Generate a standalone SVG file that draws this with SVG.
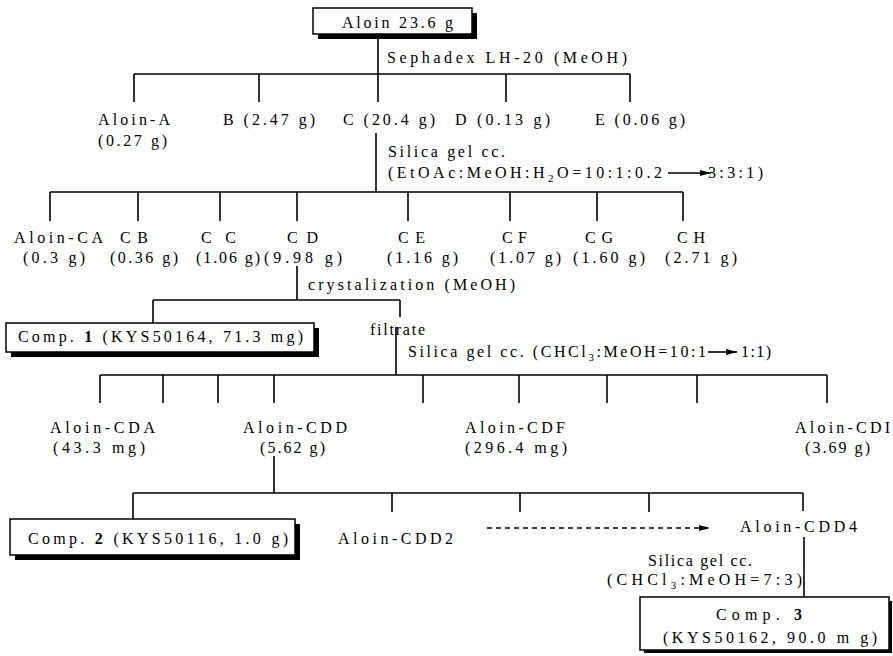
<svg xmlns="http://www.w3.org/2000/svg" width="893" height="656" viewBox="0 0 893 656">
<style>
text{font-family:"Liberation Serif","Times New Roman",serif;font-size:16px;fill:#000}
.b{font-weight:bold}
.ln{stroke:#000;stroke-width:1.6;fill:none}
.dash{stroke:#000;stroke-width:1.4;stroke-dasharray:5 4;fill:none}
.box{fill:#fff;stroke:#000;stroke-width:1.5}
.sh{fill:#000}
</style>
<defs>
<marker id="ah" markerWidth="12" markerHeight="8" refX="11" refY="4" orient="auto" markerUnits="userSpaceOnUse">
<path d="M0,1 L11,4 L0,7 Z" fill="#000"/>
</marker>
</defs>
<g id="connectors">
<path class="ln" d="M378,34 V74 M134,74 H630 M134,74 V102 M259,74 V102 M378,74 V102 M506,74 V102 M630,74 V102"/>
<path class="ln" d="M376,133 V192 M50,192 H683 M50,192 V221 M138,192 V221 M220,192 V221 M297,192 V221 M408,192 V221 M510,192 V221 M597,192 V221 M683,192 V221"/>
<path class="ln" d="M297,266 V300 M153,300 H400 M153,300 V323 M400,300 V317"/>
<path class="ln" d="M396,327 V375 M100,375 H827 M100,375 V403 M163,375 V403 M218,375 V403 M274,375 V403 M423,375 V403 M519,375 V403 M607,375 V403 M697,375 V403 M827,375 V403"/>
<path class="ln" d="M274,456 V493 M133,493 H803 M133,493 V519 M392,493 V512 M520,493 V512 M649,493 V512 M803,493 V511"/>
<path class="dash" d="M487,528 H710" marker-end="url(#ah)"/>
<path class="ln" d="M804,537 V597"/>
<path class="ln" d="M668,173 H711" marker-end="url(#ah)"/>
<path class="ln" d="M708,352 H737" marker-end="url(#ah)"/>
</g>
<g id="n-aloin">
<rect class="sh" x="318" y="13" width="159" height="26"/>
<rect class="box" x="313" y="8" width="159" height="26"/>
<text x="342" y="28" textLength="111" lengthAdjust="spacing">Aloin 23.6 g</text>
</g>
<g id="l-sephadex"><text x="387" y="63" textLength="240" lengthAdjust="spacing">Sephadex LH-20 (MeOH)</text></g>
<g id="n-A"><text x="98" y="125" textLength="72" lengthAdjust="spacing">Aloin-A</text><text x="98" y="146" textLength="69" lengthAdjust="spacing">(0.27 g)</text></g>
<g id="n-B"><text x="223" y="125" textLength="92" lengthAdjust="spacing">B (2.47 g)</text></g>
<g id="n-C"><text x="343" y="125" textLength="92" lengthAdjust="spacing">C (20.4 g)</text></g>
<g id="n-D"><text x="455" y="125" textLength="95" lengthAdjust="spacing">D (0.13 g)</text></g>
<g id="n-E"><text x="595" y="125" textLength="90" lengthAdjust="spacing">E (0.06 g)</text></g>
<g id="l-silica1">
<text x="388" y="157" textLength="117" lengthAdjust="spacing">Silica gel cc.</text>
<text x="388" y="178" textLength="274" lengthAdjust="spacing">(EtOAc:MeOH:H<tspan font-size="11" dy="4">2</tspan><tspan dy="-4">O=10:1:0.2</tspan></text>
<text x="708" y="178" textLength="55" lengthAdjust="spacing">3:3:1)</text>
</g>
<g id="n-CA"><text x="14" y="243" textLength="89" lengthAdjust="spacing">Aloin-CA</text><text x="23" y="263" textLength="62" lengthAdjust="spacing">(0.3 g)</text></g>
<g id="n-CB"><text x="120" y="243" textLength="28" lengthAdjust="spacing">CB</text><text x="110" y="263" textLength="68" lengthAdjust="spacing">(0.36 g)</text></g>
<g id="n-CC"><text x="201" y="243" textLength="35" lengthAdjust="spacing">CC</text><text x="196" y="263" textLength="64" lengthAdjust="spacing">(1.06 g)</text></g>
<g id="n-CD"><text x="287" y="243" textLength="31" lengthAdjust="spacing">CD</text><text x="264" y="263" textLength="78" lengthAdjust="spacing">(9.98 g)</text></g>
<g id="n-CE"><text x="398" y="243" textLength="27" lengthAdjust="spacing">CE</text><text x="387" y="263" textLength="71" lengthAdjust="spacing">(1.16 g)</text></g>
<g id="n-CF"><text x="502" y="243" textLength="25" lengthAdjust="spacing">CF</text><text x="490" y="263" textLength="71" lengthAdjust="spacing">(1.07 g)</text></g>
<g id="n-CG"><text x="585" y="243" textLength="28" lengthAdjust="spacing">CG</text><text x="573" y="263" textLength="72" lengthAdjust="spacing">(1.60 g)</text></g>
<g id="n-CH"><text x="677" y="243" textLength="28" lengthAdjust="spacing">CH</text><text x="665" y="263" textLength="72" lengthAdjust="spacing">(2.71 g)</text></g>
<g id="l-cryst"><text x="308" y="290" textLength="207" lengthAdjust="spacing">crystalization (MeOH)</text></g>
<g id="n-comp1">
<rect class="sh" x="11" y="328" width="308" height="29"/>
<rect class="box" x="6" y="323" width="308" height="29"/>
<text x="18" y="342" textLength="285" lengthAdjust="spacing">Comp. <tspan class="b">1</tspan> (KYS50164, 71.3 mg)</text>
</g>
<g id="n-filtrate"><text x="370" y="335" textLength="55" lengthAdjust="spacing">filtrate</text></g>
<g id="l-silica2">
<text x="408" y="357" textLength="298" lengthAdjust="spacing">Silica gel cc. (CHCl<tspan font-size="11" dy="4">3</tspan><tspan dy="-4">:MeOH=10:1</tspan></text>
<text x="741" y="357" textLength="30" lengthAdjust="spacing">1:1)</text>
</g>
<g id="n-CDA"><text x="50" y="433" textLength="105" lengthAdjust="spacing">Aloin-CDA</text><text x="53" y="453" textLength="92" lengthAdjust="spacing">(43.3 mg)</text></g>
<g id="n-CDD"><text x="243" y="433" textLength="104" lengthAdjust="spacing">Aloin-CDD</text><text x="260" y="453" textLength="65" lengthAdjust="spacing">(5.62 g)</text></g>
<g id="n-CDF"><text x="465" y="433" textLength="100" lengthAdjust="spacing">Aloin-CDF</text><text x="465" y="453" textLength="102" lengthAdjust="spacing">(296.4 mg)</text></g>
<g id="n-CDI"><text x="795" y="433" textLength="95" lengthAdjust="spacing">Aloin-CDI</text><text x="805" y="453" textLength="65" lengthAdjust="spacing">(3.69 g)</text></g>
<g id="n-comp2">
<rect class="sh" x="15" y="524" width="285" height="36"/>
<rect class="box" x="10" y="519" width="285" height="36"/>
<text x="28" y="544" textLength="260" lengthAdjust="spacing">Comp. <tspan class="b">2</tspan> (KYS50116, 1.0 g)</text>
</g>
<g id="n-CDD2"><text x="338" y="544" textLength="115" lengthAdjust="spacing">Aloin-CDD2</text></g>
<g id="n-CDD4"><text x="740" y="532" textLength="117" lengthAdjust="spacing">Aloin-CDD4</text></g>
<g id="l-silica3">
<text x="648" y="566" textLength="104" lengthAdjust="spacing">Silica gel cc.</text>
<text x="607" y="585" textLength="195" lengthAdjust="spacing">(CHCl<tspan font-size="11" dy="4">3</tspan><tspan dy="-4">:MeOH=7:3)</tspan></text>
</g>
<g id="n-comp3">
<rect class="sh" x="644" y="601" width="248" height="52"/>
<rect class="box" x="640" y="597" width="249" height="53"/>
<text x="716" y="620" textLength="86" lengthAdjust="spacing">Comp. <tspan class="b">3</tspan></text>
<text x="663" y="643" textLength="214" lengthAdjust="spacing">(KYS50162, 90.0 m g)</text>
</g>
</svg>
